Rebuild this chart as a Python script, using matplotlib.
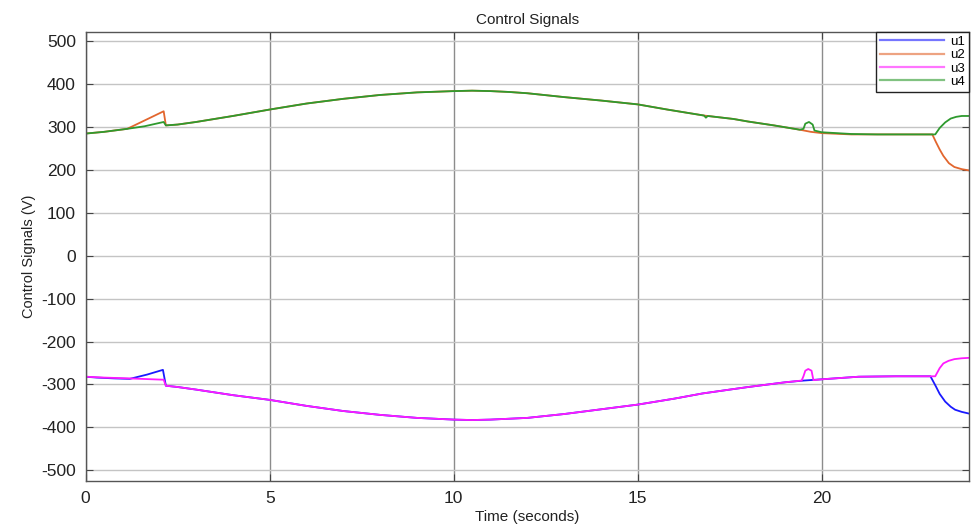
import matplotlib
matplotlib.use("Agg")
import matplotlib.pyplot as plt

plt.rcParams['font.family'] = ['Liberation Sans', 'DejaVu Sans']
plt.rcParams['axes.unicode_minus'] = False

# ---- data ----
t_u1 = [0, 0.3, 0.8, 1.2, 1.67, 2.1, 2.18, 2.5, 3, 4, 5, 6, 7, 8, 9, 10, 10.5, 11, 12, 13, 14, 15, 16,
        16.76, 17.5, 18, 19.0, 19.5, 20, 21, 22, 22.95, 23.1, 23.2, 23.35, 23.5, 23.62, 23.8, 24]
u1 = [-282, -284, -286, -287, -277, -266, -303, -306, -312, -325, -336, -350, -362, -371, -378, -382,
      -383, -382, -378, -369, -358, -347, -333, -321, -312, -306, -295, -291, -288, -282, -281, -281,
      -305, -322, -340, -352, -359, -364, -368]

t_u2 = [0, 0.5, 1.13, 2.12, 2.18, 2.5, 3, 4, 5, 6, 7, 8, 9, 10, 10.5, 11, 11.5, 12, 13, 14, 15, 15.8,
        16.8, 17.6, 18, 18.7, 19.4, 19.7, 20, 20.8, 21.5, 22, 23.0, 23.1, 23.2, 23.3, 23.45, 23.6, 23.8, 24]
u2 = [285, 289, 296, 337, 304, 306, 312, 326, 341, 355, 366, 375, 381, 384, 385, 384, 382, 379, 370,
      362, 353, 341, 327, 319, 313, 304, 294, 289, 286, 283, 283, 283, 283, 265, 248, 233, 216, 207, 202, 199]

t_u3 = [0, 0.5, 1.2, 2.12, 2.18, 2.5, 3, 4, 5, 6, 7, 8, 9, 10, 10.5, 11, 12, 13, 14, 15, 16, 16.76,
        17.5, 18, 19.0, 19.45, 19.5, 19.55, 19.63, 19.72, 19.77, 20, 21, 22, 23.08, 23.2, 23.3, 23.44,
        23.6, 23.8, 24]
u3 = [-282, -284, -286, -289, -303, -306, -312, -325, -336, -350, -362, -371, -378, -382, -383, -382,
      -378, -369, -358, -347, -333, -321, -312, -306, -295, -291, -281, -268, -264, -268, -290, -288,
      -282, -281, -281, -262, -251, -245, -241, -239, -238]

t_u4 = [0, 0.5, 1.13, 1.6, 2.12, 2.18, 2.5, 3, 4, 5, 6, 7, 8, 9, 10, 10.5, 11, 11.5, 12, 13, 14, 15,
        15.8, 16.8, 16.85, 16.9, 17.6, 18, 18.7, 19.4, 19.5, 19.55, 19.65, 19.75, 19.8, 20, 20.8, 21.5,
        22, 23.08, 23.2, 23.35, 23.5, 23.65, 23.8, 24]
u4 = [285, 289, 296, 302, 312, 304, 306, 312, 326, 341, 355, 366, 375, 381, 384, 385, 384, 382, 379,
      370, 362, 353, 341, 327, 322, 326, 319, 313, 304, 294, 296, 308, 312, 306, 292, 288, 284, 283,
      283, 283, 298, 311, 320, 324, 326, 326]

labels = ["u1", "u2", "u3", "u4"]
colors = ["#1a1aff", "#e2662e", "#ff1aff", "#2e9a2e"]
x_ticks = [0, 5, 10, 15, 20]
y_ticks = [500, 400, 300, 200, 100, 0, -100, -200, -300, -400, -500]

# ---- figure ----
fig = plt.figure(figsize=(9.73, 5.32), dpi=100)
ax = fig.add_axes([0.088, 0.096, 0.908, 0.844])

series = [(t_u1, u1), (t_u2, u2), (t_u3, u3), (t_u4, u4)]
for (tt, vv), lab, col in zip(series, labels, colors):
    ax.plot(tt, vv, color=col, lw=1.3, label=lab)

ax.set_xlim(0, 24)
ax.set_ylim(-525, 522)
ax.set_xticks(x_ticks)
ax.set_yticks(y_ticks)
ax.xaxis.grid(True, color="#8c8c8c", lw=1.0)
ax.yaxis.grid(True, color="#c4c4c4", lw=1.0)
ax.set_axisbelow(True)
ax.tick_params(direction="in", top=True, right=True, labelsize=12.5, colors="#444444",
               labelcolor="#222222", length=5, pad=7)
for s in ax.spines.values():
    s.set_color("#555555")
    s.set_linewidth(1.0)

ax.set_title("Control Signals", fontsize=11, color="#222222", pad=6)
ax.set_xlabel("Time (seconds)", fontsize=11, color="#222222", labelpad=3)
ax.set_ylabel("Control Signals (V)", fontsize=10.5, color="#222222", labelpad=4)

leg = ax.legend(loc="upper right", fontsize=9.5, handlelength=4.8, handletextpad=0.5,
                borderaxespad=0.0, fancybox=False, framealpha=1, edgecolor="#222222",
                labelspacing=0.08, borderpad=0.3)
leg.get_frame().set_linewidth(1.0)
for line in leg.get_lines():
    line.set_alpha(0.6)
    line.set_linewidth(1.6)

fig.savefig("out.png", dpi=100, facecolor="white")
